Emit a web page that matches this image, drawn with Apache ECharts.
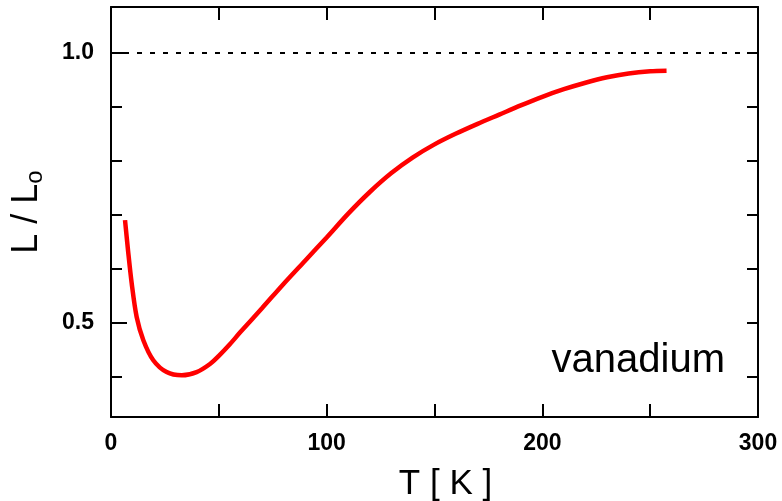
<!DOCTYPE html>
<html>
<head>
<meta charset="utf-8">
<script src="https://cdn.jsdelivr.net/npm/echarts@6/dist/echarts.min.js"></script>
<style>
html,body{margin:0;padding:0;background:#fff;}
#chart{width:782px;height:501px;}
</style>
</head>
<body>
<div id="chart"></div>
<script>
// Temperature T [K]
var temps = [6.5, 7.9, 9.6, 11.9, 15, 19.6, 25.8, 32.8, 39.7, 45.9, 50, 55, 60, 70, 80, 90, 100, 110, 120, 130, 140, 150, 160, 170, 180, 190, 200, 210, 220, 230, 240, 250, 257.6];
// Lorenz ratio L / Lo
var ratios = [0.690, 0.634, 0.573, 0.511, 0.468, 0.431, 0.409, 0.403, 0.409, 0.424, 0.439, 0.460, 0.483, 0.527, 0.572, 0.615, 0.658, 0.702, 0.742, 0.777, 0.806, 0.830, 0.850, 0.868, 0.885, 0.902, 0.918, 0.932, 0.944, 0.954, 0.961, 0.965, 0.966];
var xTicks = [0, 50, 100, 150, 200, 250, 300];
var xLabels = [0, 100, 200, 300];
var yTicks = [0.4, 0.5, 0.6, 0.7, 0.8, 0.9, 1.0];
var yMajor = [0.5, 1.0];
var yLabels = [0.5, 1.0];
var refLevel = 1.0;
var annotation = 'vanadium';

var chart = echarts.init(document.getElementById('chart'), null, {renderer: 'canvas'});
var black = '#000';
var fam = '"Liberation Sans", Arial, sans-serif';
var axisLine = {show: true, lineStyle: {color: black, width: 2}};
var tickStyle = {color: black, width: 2};
var option = {
  animation: false,
  backgroundColor: '#fff',
  grid: {left: 111, right: 24, top: 7, bottom: 84, containLabel: false, outerBoundsMode: 'none'},
  xAxis: [{
    type: 'value', position: 'bottom', min: 0, max: 300,
    axisLine: axisLine,
    axisTick: {show: true, inside: true, length: 13, customValues: xTicks, lineStyle: tickStyle},
    axisLabel: {show: true, customValues: xLabels, margin: 15, color: black, fontFamily: fam, fontWeight: 'bold', fontSize: 23},
    splitLine: {show: false},
    name: 'T [ K ]', nameLocation: 'middle', nameGap: 50,
    nameTextStyle: {color: black, fontFamily: fam, fontSize: 35, padding: [0, 0, 0, 22]}
  }, {
    type: 'value', position: 'top', min: 0, max: 300,
    axisLine: axisLine,
    axisTick: {show: true, inside: true, length: 13, customValues: xTicks, lineStyle: tickStyle},
    axisLabel: {show: false}, splitLine: {show: false}
  }],
  yAxis: [{
    type: 'value', position: 'left', min: 0.326, max: 1.084,
    axisLine: axisLine,
    axisTick: {show: true, inside: true, length: 11, customValues: yTicks, lineStyle: tickStyle},
    axisLabel: {show: true, customValues: yLabels, margin: 17, color: black, fontFamily: fam, fontWeight: 'bold', fontSize: 23,
      formatter: function (v) { return v.toFixed(1); }},
    splitLine: {show: false},
    name: '{m|L / L}{s|o}', nameLocation: 'middle', nameGap: 66,
    nameTextStyle: {color: black, rich: {
      m: {fontFamily: fam, fontSize: 36, color: black},
      s: {fontFamily: fam, fontSize: 24, color: black, verticalAlign: 'bottom', padding: [0, 0, -2, 0]}
    }}
  }, {
    type: 'value', position: 'left', min: 0.326, max: 1.084,
    axisLine: {show: false},
    axisTick: {show: true, inside: true, length: 16, customValues: yMajor, lineStyle: tickStyle},
    axisLabel: {show: false}, splitLine: {show: false}
  }, {
    type: 'value', position: 'right', min: 0.326, max: 1.084,
    axisLine: axisLine,
    axisTick: {show: true, inside: true, length: 11, customValues: yTicks, lineStyle: tickStyle},
    axisLabel: {show: false}, splitLine: {show: false}
  }],
  series: [{
    type: 'line',
    xAxisIndex: 0, yAxisIndex: 0,
    data: temps.map(function (t, i) { return [t, ratios[i]]; }),
    smooth: 0.3,
    showSymbol: false,
    symbol: 'none',
    lineStyle: {color: '#ff0000', width: 4.5},
    z: 5,
    markLine: {
      silent: true, symbol: 'none', animation: false,
      label: {show: false},
      lineStyle: {color: black, width: 2, type: [5, 8]},
      data: [{yAxis: refLevel}]
    }
  }],
  graphic: [{
    type: 'text', right: 57, bottom: 120,
    style: {text: annotation, fill: black, font: '40px "Liberation Sans", Arial, sans-serif'}
  }]
};
chart.setOption(option);
</script>
</body>
</html>
